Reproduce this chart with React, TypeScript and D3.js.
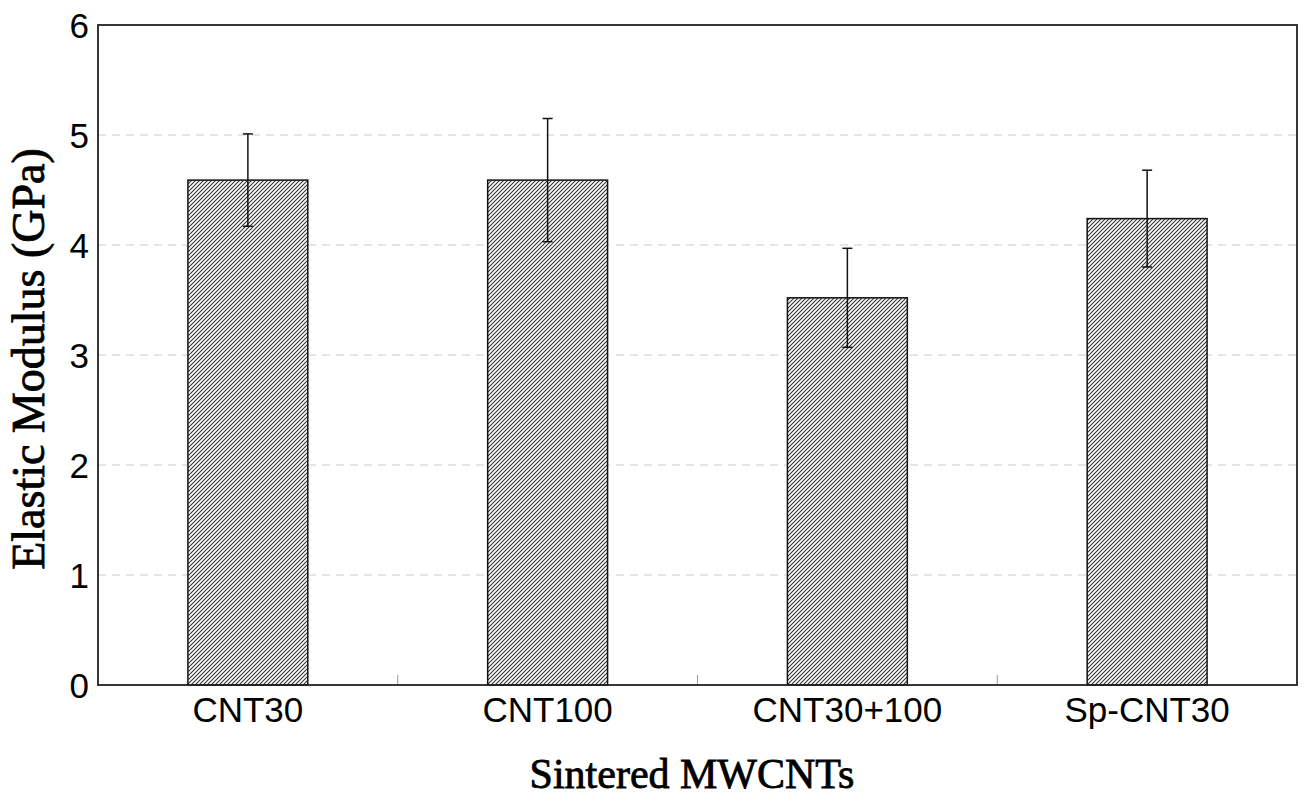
import React from "react";
import * as d3 from "d3";

const categories = ["CNT30", "CNT100", "CNT30+100", "Sp-CNT30"];
const means = [4.59, 4.59, 3.52, 4.24];
const errors = [0.42, 0.56, 0.45, 0.44];
const yTicks = [0, 1, 2, 3, 4, 5, 6];

const W = 1307, H = 801;
const M = { left: 98, top: 25, right: 10, bottom: 116 };

export default function App() {
  const x = d3.scaleBand<string>().domain(categories).range([M.left, W - M.right]).paddingInner(0.6).paddingOuter(0.3);
  const outer = d3.scaleBand<string>().domain(categories).range([M.left, W - M.right]);
  const y = d3.scaleLinear().domain([0, 6]).range([H - M.bottom, M.top]);
  const x0 = M.left, x1 = W - M.right, y0 = y(0), y1 = y(6);
  const tickFont = "'Liberation Sans', Arial, sans-serif";
  const serif = "'Liberation Serif', 'Times New Roman', serif";
  return (
    <svg width={W} height={H} style={{ position: "absolute", left: 0, top: 0, background: "#fff" }}>
      <defs>
        <pattern id="hatch" width={4} height={4} patternUnits="userSpaceOnUse">
          <rect width={4} height={4} fill="#fff" />
          <path d="M-1,1 l2,-2 M0,4 l4,-4 M3,5 l2,-2" stroke="#333" strokeWidth={1.1} />
        </pattern>
      </defs>
      <rect x={0} y={0} width={W} height={H} fill="#fff" />
      {yTicks.filter(t => t > 0 && t < 6).map(t => (
        <line key={t} x1={x0} x2={x1} y1={y(t)} y2={y(t)} stroke="#ccc" strokeDasharray="8,6" strokeWidth={1} />
      ))}
      {categories.slice(1).map(c => (
        <line key={c} x1={outer(c)!} x2={outer(c)!} y1={y0} y2={y0 - 10} stroke="#999" strokeWidth={1} />
      ))}
      {categories.map((c, i) => (
        <g key={c}>
          <rect x={x(c)!} y={y(means[i])} width={x.bandwidth()} height={y0 - y(means[i])} fill="url(#hatch)" stroke="#111" strokeWidth={1.5} />
          <line x1={x(c)! + x.bandwidth() / 2} x2={x(c)! + x.bandwidth() / 2} y1={y(means[i] + errors[i])} y2={y(means[i] - errors[i])} stroke="#111" strokeWidth={1.5} />
          <line x1={x(c)! + x.bandwidth() / 2 - 5} x2={x(c)! + x.bandwidth() / 2 + 5} y1={y(means[i] + errors[i])} y2={y(means[i] + errors[i])} stroke="#111" strokeWidth={1.5} />
          <line x1={x(c)! + x.bandwidth() / 2 - 5} x2={x(c)! + x.bandwidth() / 2 + 5} y1={y(means[i] - errors[i])} y2={y(means[i] - errors[i])} stroke="#111" strokeWidth={1.5} />
          <text x={x(c)! + x.bandwidth() / 2} y={y0 + 37} textAnchor="middle" fontFamily={tickFont} fontSize={35} fill="#000">{c}</text>
        </g>
      ))}
      <rect x={x0} y={y1} width={x1 - x0} height={y0 - y1} fill="none" stroke="#222" strokeWidth={1.8} />
      {yTicks.map(t => (
        <text key={t} x={x0 - 9} y={y(t) + 12.5} textAnchor="end" fontFamily={tickFont} fontSize={35} fill="#000">{t}</text>
      ))}
      <text transform={`translate(44,359) rotate(-90)`} textAnchor="middle" fontFamily={serif} fontSize={46} fill="#000" stroke="#000" strokeWidth={0.8}>Elastic Modulus (GPa)</text>
      <text x={692} y={788} textAnchor="middle" fontFamily={serif} fontSize={42} fill="#000" stroke="#000" strokeWidth={0.8}>Sintered MWCNTs</text>
    </svg>
  );
}
